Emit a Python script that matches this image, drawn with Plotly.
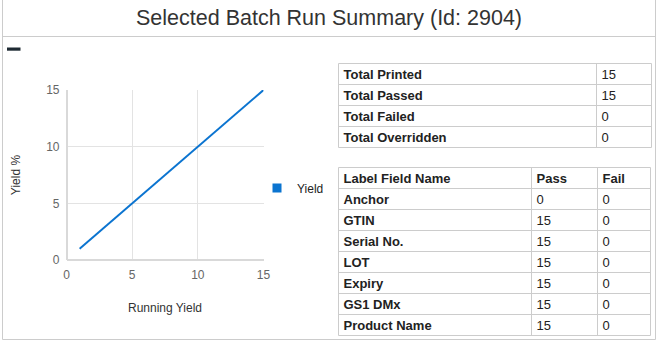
import plotly.graph_objects as go

W, H = 657, 342

# ---- data ----
running_yield = [1, 2, 3, 4, 5, 6, 7, 8, 9, 10, 11, 12, 13, 14, 15]
yield_pct = [1, 2, 3, 4, 5, 6, 7, 8, 9, 10, 11, 12, 13, 14, 15]
x_ticks = [0, 5, 10, 15]
y_ticks = [0, 5, 10, 15]

summary_labels = ["Total Printed", "Total Passed", "Total Failed", "Total Overridden"]
summary_values = [15, 15, 0, 0]

field_header = ["Label Field Name", "Pass", "Fail"]
field_names = ["Anchor", "GTIN", "Serial No.", "LOT", "Expiry", "GS1 DMx", "Product Name"]
field_pass = [0, 15, 15, 15, 15, 15, 15]
field_fail = [0, 0, 0, 0, 0, 0, 0]

title_text = "Selected Batch Run Summary (Id: 2904)"

# ---- helpers ----
def px(x):
    return x / W

def py(y):
    return 1 - y / H

FONT = "Arial, 'Liberation Sans', sans-serif"
LINE_BLUE = "#0b74d0"
BORDER = "#cccccc"
TXT = "#222222"
PAD = 5  # cell text padding (table-local pixel units)
ROW_PX = 21.0
TEXT_DY = 1.5 / ROW_PX  # small downward nudge of cell text (row units)

fig = go.Figure()

fig.add_trace(go.Scatter(
    x=running_yield, y=yield_pct, mode="lines",
    line=dict(color=LINE_BLUE, width=2), showlegend=False,
    hoverinfo="skip", xaxis="x", yaxis="y",
))
# legend entry (square key)
fig.add_trace(go.Scatter(
    x=[None], y=[None], mode="markers", name="Yield",
    marker=dict(symbol="square", size=9, color=LINE_BLUE),
    showlegend=True, xaxis="x", yaxis="y",
))

# ---- table 1 (summary): columns in pixel units, rows in row units ----
t1_cols = [0, 258, 313]          # column boundaries (table-local units)
n1 = len(summary_labels)
row_centers1 = [i + 0.5 + TEXT_DY for i in range(n1)]

fig.add_trace(go.Scatter(
    x=[t1_cols[0] + PAD] * n1, y=row_centers1,
    text=["<b>%s</b>" % s for s in summary_labels],
    mode="text", textposition="middle right", cliponaxis=False,
    textfont=dict(family=FONT, size=13, color=TXT),
    showlegend=False, hoverinfo="skip", xaxis="x2", yaxis="y2",
))
fig.add_trace(go.Scatter(
    x=[t1_cols[1] + PAD] * n1, y=row_centers1,
    text=[str(v) for v in summary_values],
    mode="text", textposition="middle right", cliponaxis=False,
    textfont=dict(family=FONT, size=13, color=TXT),
    showlegend=False, hoverinfo="skip", xaxis="x2", yaxis="y2",
))

# ---- table 2 (fields) ----
t2_cols = [0, 193, 259, 312]
n2 = len(field_names) + 1
row_centers2 = [i + 0.5 + TEXT_DY for i in range(n2)]
col_texts = [
    ["<b>%s</b>" % field_header[0]] + ["<b>%s</b>" % s for s in field_names],
    ["<b>%s</b>" % field_header[1]] + [str(v) for v in field_pass],
    ["<b>%s</b>" % field_header[2]] + [str(v) for v in field_fail],
]
for ci, texts in enumerate(col_texts):
    fig.add_trace(go.Scatter(
        x=[t2_cols[ci] + PAD] * n2, y=row_centers2, text=texts,
        mode="text", textposition="middle right", cliponaxis=False,
        textfont=dict(family=FONT, size=13, color=TXT),
        showlegend=False, hoverinfo="skip", xaxis="x3", yaxis="y3",
    ))


def table_lines(cols, nrows, xr, yr):
    out = []
    for c in cols:
        out.append(dict(type="line", xref=xr, yref=yr, x0=c, x1=c, y0=0, y1=nrows,
                        line=dict(color=BORDER, width=1), layer="below"))
    for r in range(nrows + 1):
        out.append(dict(type="line", xref=xr, yref=yr, x0=cols[0], x1=cols[-1], y0=r, y1=r,
                        line=dict(color=BORDER, width=1), layer="below"))
    return out


shapes = [
    # outer frame
    dict(type="line", xref="paper", yref="paper", x0=px(2.5), x1=px(2.5), y0=py(0), y1=py(339.5),
         line=dict(color=BORDER, width=1)),
    dict(type="line", xref="paper", yref="paper", x0=px(655.5), x1=px(655.5), y0=py(0), y1=py(339.5),
         line=dict(color=BORDER, width=1)),
    dict(type="line", xref="paper", yref="paper", x0=px(2.5), x1=px(655.5), y0=py(339.5), y1=py(339.5),
         line=dict(color=BORDER, width=1)),
    dict(type="line", xref="paper", yref="paper", x0=px(2.5), x1=px(655.5), y0=py(36.5), y1=py(36.5),
         line=dict(color=BORDER, width=1)),
    # small dark bar
    dict(type="rect", xref="paper", yref="paper", x0=px(7), x1=px(20.5), y0=py(47.5), y1=py(50.7),
         fillcolor="#1e2a33", line=dict(width=0)),
]
shapes += table_lines(t1_cols, n1, "x2", "y2")
shapes += table_lines(t2_cols, n2, "x3", "y3")

table_axis = dict(showticklabels=False, ticks="", zeroline=False, showline=False,
                  showgrid=False, fixedrange=True, automargin=False)

E = 2.0  # extra pixels around each table

def xdom(left, cols):
    return [px(left - E), px(left + cols[-1] + E)]

def xrng(cols):
    return [cols[0] - E, cols[-1] + E]

def ydom(top, nrows, rowpx):
    return [py(top + nrows * rowpx + E), py(top - E)]

def yrng(nrows, rowpx):
    e = E / rowpx
    return [nrows + e, -e]

T1_LEFT, T1_TOP = 338.5, 63.5
T2_LEFT, T2_TOP = 338.5, 167.5

fig.update_layout(
    width=W, height=H, autosize=False,
    margin=dict(l=0, r=0, t=0, b=0),
    paper_bgcolor="white", plot_bgcolor="rgba(0,0,0,0)",
    font=dict(family=FONT, size=12, color=TXT),
    shapes=shapes,
    annotations=[dict(
        text=title_text, xref="paper", yref="paper", x=px(329), y=py(17.5),
        xanchor="center", yanchor="middle", showarrow=False,
        font=dict(family=FONT, size=21.5, color="#333333"),
    )],
    xaxis=dict(
        domain=[px(66.5), px(263.5)], range=[0, 15], tickvals=x_ticks,
        showgrid=True, gridcolor="#e3e3e3", zeroline=True, zerolinecolor="#d9d9d9",
        showline=False, ticks="", ticklabelstandoff=6,
        tickfont=dict(family=FONT, size=12, color="#666666"),
        title=dict(text="Running Yield", standoff=22, font=dict(family=FONT, size=12, color="#333333")),
        automargin=False, fixedrange=True,
    ),
    yaxis=dict(
        domain=[py(260), py(90)], range=[0, 15], tickvals=y_ticks,
        showgrid=True, gridcolor="#e3e3e3", zeroline=True, zerolinecolor="#d9d9d9",
        showline=False, ticks="", ticklabelstandoff=6,
        tickfont=dict(family=FONT, size=12, color="#666666"),
        title=dict(text="Yield %", standoff=22, font=dict(family=FONT, size=12, color="#333333")),
        automargin=False, fixedrange=True,
    ),
    xaxis2=dict(domain=xdom(T1_LEFT, t1_cols), range=xrng(t1_cols), anchor="y2", **table_axis),
    yaxis2=dict(domain=ydom(T1_TOP, n1, ROW_PX), range=yrng(n1, ROW_PX), anchor="x2", **table_axis),
    xaxis3=dict(domain=xdom(T2_LEFT, t2_cols), range=xrng(t2_cols), anchor="y3", **table_axis),
    yaxis3=dict(domain=ydom(T2_TOP, n2, ROW_PX), range=yrng(n2, ROW_PX), anchor="x3", **table_axis),
    legend=dict(
        x=px(257), y=py(188), xanchor="left", yanchor="middle",
        bgcolor="rgba(0,0,0,0)", borderwidth=0,
        font=dict(family=FONT, size=12, color=TXT),
    ),
)

fig.write_html("out.html")
